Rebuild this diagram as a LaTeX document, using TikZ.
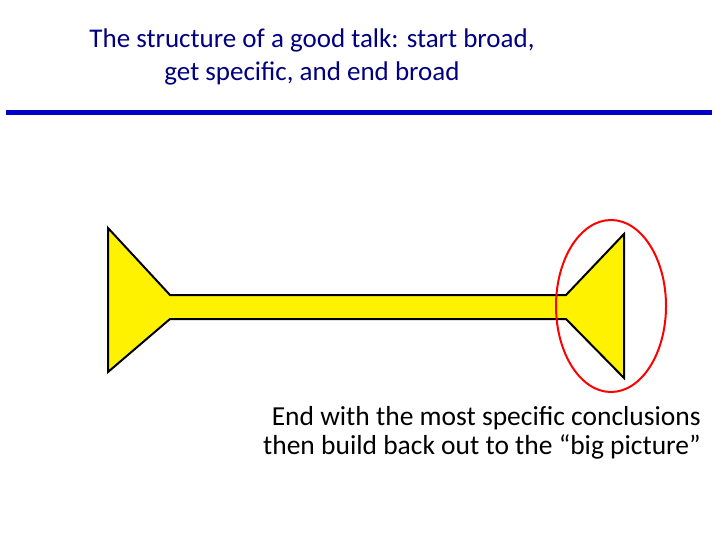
\documentclass[tikz,border=0pt]{standalone}
\usepackage{fontspec}
\setmainfont{Carlito}
\usetikzlibrary{shapes.geometric}
\begin{document}
\begin{tikzpicture}[x=1bp,y=-1bp,
  dumbbell/.style={draw=black,line width=2bp,fill=yellow,line join=miter},
  lbl/.style={inner sep=0pt}]
\useasboundingbox (0,0) rectangle (720,540);
\node[lbl,text=blue!50!black,align=center,font=\fontsize{27bp}{33bp}\selectfont] (title) at (312,57) {The structure of a good talk: start broad,\\get specific, and end broad};
\draw[line width=5bp,draw={rgb,255:red,0;green,0;blue,200}] (6,113) -- (712,113);
\draw[dumbbell] (108,228) -- (170,295) -- (566,295) -- (624,234) -- (624,378) -- (566,319) -- (170,319) -- (108,372) -- cycle;
\node[draw=red,line width=2bp,ellipse,minimum width=110bp,minimum height=172bp,inner sep=0pt] (circ) at (611,306) {};
\node[lbl,align=right,anchor=east,font=\fontsize{27.5bp}{29bp}\selectfont] (note) at (701,433) {End with the most specific conclusions\\then build back out to the “big picture”};
\end{tikzpicture}
\end{document}
